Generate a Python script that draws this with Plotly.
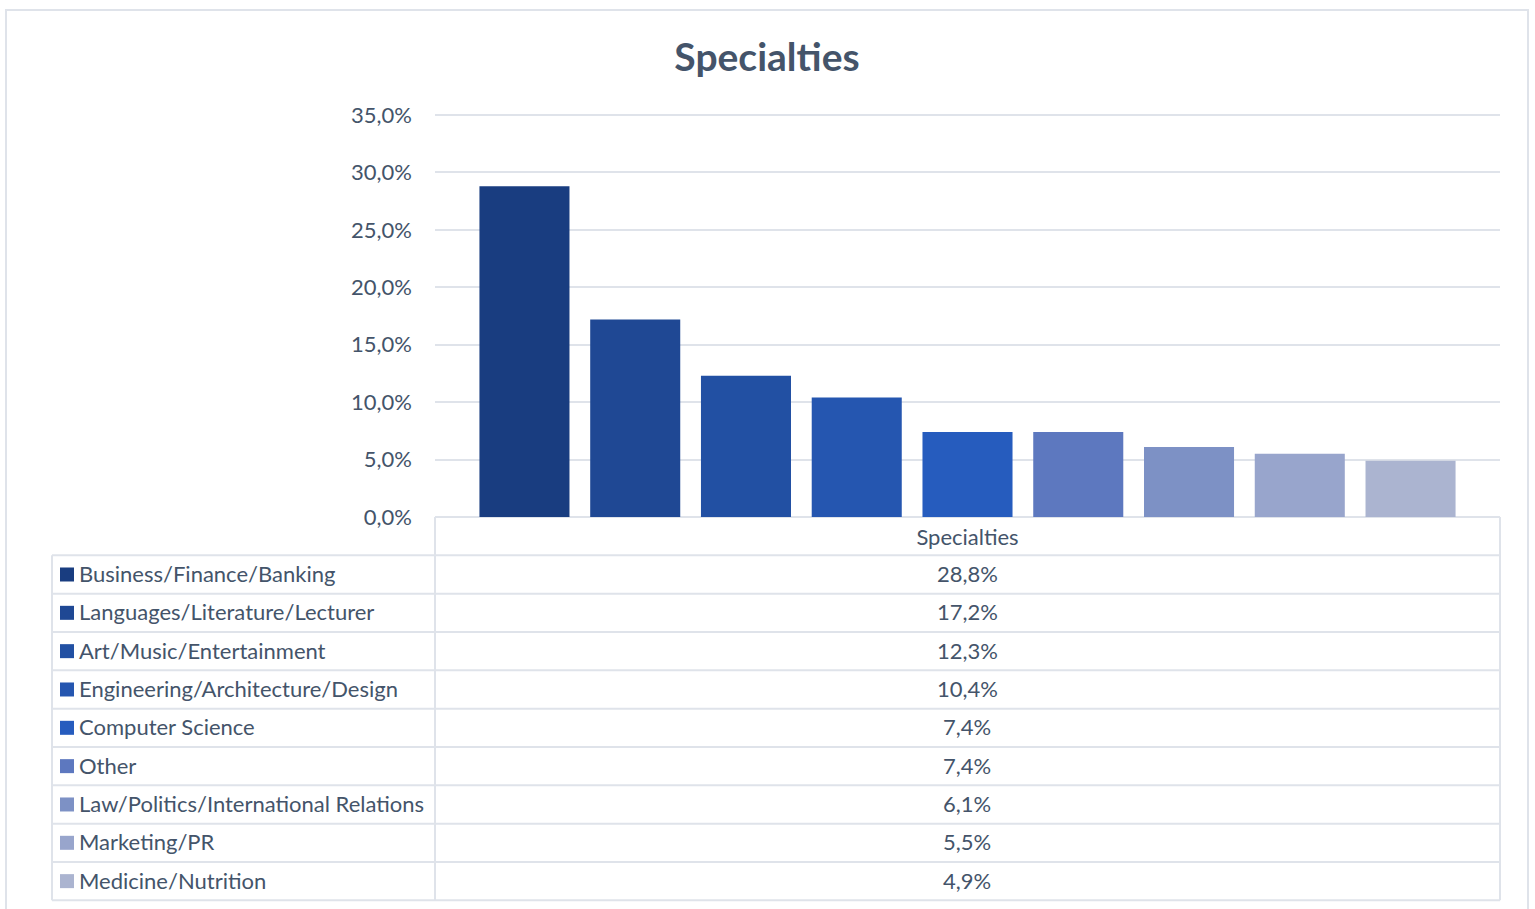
import plotly.graph_objects as go

# ---- data -------------------------------------------------------------
categories = [
    "Business/Finance/Banking",
    "Languages/Literature/Lecturer",
    "Art/Music/Entertainment",
    "Engineering/Architecture/Design",
    "Computer Science",
    "Other",
    "Law/Politics/International Relations",
    "Marketing/PR",
    "Medicine/Nutrition",
]
shares = [0.288, 0.172, 0.123, 0.104, 0.074, 0.074, 0.061, 0.055, 0.049]
group_label = "Specialties"
colors = [
    "#193d80", "#1f4894", "#2250a3", "#2556b0", "#265cbe",
    "#5d78bf", "#7d91c5", "#98a5cc", "#abb4d0",
]
y_ticks = [0, 0.05, 0.10, 0.15, 0.20, 0.25, 0.30, 0.35]

# ---- page geometry (pixels) ------------------------------------------
W, H = 1535, 909
FONT = "Lato"
TXT = "#44546a"
GRID = "#dfe3ea"

plot_l, plot_r = 435, 1500
plot_t, plot_b = 115, 517          # pixel rows of the 35 % and 0 % gridlines
pad_top = 4                        # keep the top gridline off the clip edge
table_l = 52
row_h = 38.33
n_rows = len(categories)

y_max = y_ticks[-1] * (plot_b - plot_t + pad_top) / (plot_b - plot_t)


def px(x):
    return x / W


def py(y):
    return 1 - y / H


fig = go.Figure()
for name, val, col in zip(categories, shares, colors):
    fig.add_trace(go.Bar(
        name=name,
        x=[group_label],
        y=[val],
        marker=dict(color=col, line=dict(width=0)),
        hovertemplate="%{y:.1%}<extra>" + name + "</extra>",
    ))

shapes = []
annotations = []

# outer chart frame
shapes.append(dict(type="rect", xref="paper", yref="paper",
                   x0=px(6), x1=px(1528), y0=py(10), y1=py(930),
                   line=dict(color=GRID, width=2), layer="below"))

# data table grid
table_bottom = plot_b + row_h * (n_rows + 1)
for k in range(1, n_rows + 2):
    y = plot_b + row_h * k
    shapes.append(dict(type="line", xref="paper", yref="paper",
                       x0=px(table_l), x1=px(plot_r), y0=py(y), y1=py(y),
                       line=dict(color=GRID, width=2)))
shapes.append(dict(type="line", xref="paper", yref="paper",
                   x0=px(table_l), x1=px(table_l),
                   y0=py(plot_b + row_h), y1=py(table_bottom),
                   line=dict(color=GRID, width=2)))
for x in (plot_l, plot_r):
    shapes.append(dict(type="line", xref="paper", yref="paper",
                       x0=px(x), x1=px(x), y0=py(plot_b), y1=py(table_bottom),
                       line=dict(color=GRID, width=2)))

# table rows: legend key, series name, value
for i, (name, val, col) in enumerate(zip(categories, shares, colors)):
    yc = plot_b + row_h * (i + 1.5)
    shapes.append(dict(type="rect", xref="paper", yref="paper",
                       x0=px(60), x1=px(74), y0=py(yc + 7), y1=py(yc - 7),
                       fillcolor=col, line=dict(width=0)))
    annotations.append(dict(xref="paper", yref="paper", x=px(77), y=py(yc - 1),
                            xanchor="left", yanchor="middle", showarrow=False,
                            text=name, font=dict(family=FONT, size=22, color=TXT)))
    annotations.append(dict(xref="paper", yref="paper",
                            x=px((plot_l + plot_r) / 2), y=py(yc - 1),
                            xanchor="center", yanchor="middle", showarrow=False,
                            text=f"{val * 100:.1f}%".replace(".", ","),
                            font=dict(family=FONT, size=22, color=TXT)))

fig.update_layout(
    width=W, height=H,
    margin=dict(l=0, r=0, t=0, b=0, autoexpand=False),
    paper_bgcolor="white", plot_bgcolor="white",
    separators=", ",
    font=dict(family=FONT, size=22, color=TXT),
    title=dict(text="<b>Specialties</b>", x=767 / W, xanchor="center",
               y=py(57), yanchor="middle", automargin=False,
               font=dict(family=FONT, size=39, color=TXT)),
    barmode="group",
    bargap=0.064,
    bargroupgap=0.187,
    showlegend=False,
    xaxis=dict(domain=[px(plot_l), px(plot_r)], showgrid=False,
               showline=False, zeroline=False, ticks="", automargin=False,
               tickfont=dict(family=FONT, size=22, color=TXT),
               ticklabelstandoff=5),
    yaxis=dict(domain=[py(plot_b), py(plot_t - pad_top)], range=[0, y_max],
               tickvals=y_ticks,
               tickformat=".1%", showgrid=True, gridcolor=GRID, gridwidth=2,
               zeroline=True, zerolinecolor=GRID, zerolinewidth=2,
               showline=False, ticks="", ticklabelstandoff=22,
               automargin=False,
               tickfont=dict(family=FONT, size=22, color=TXT)),
    shapes=shapes,
    annotations=annotations,
)

fig.write_html("out.html")
